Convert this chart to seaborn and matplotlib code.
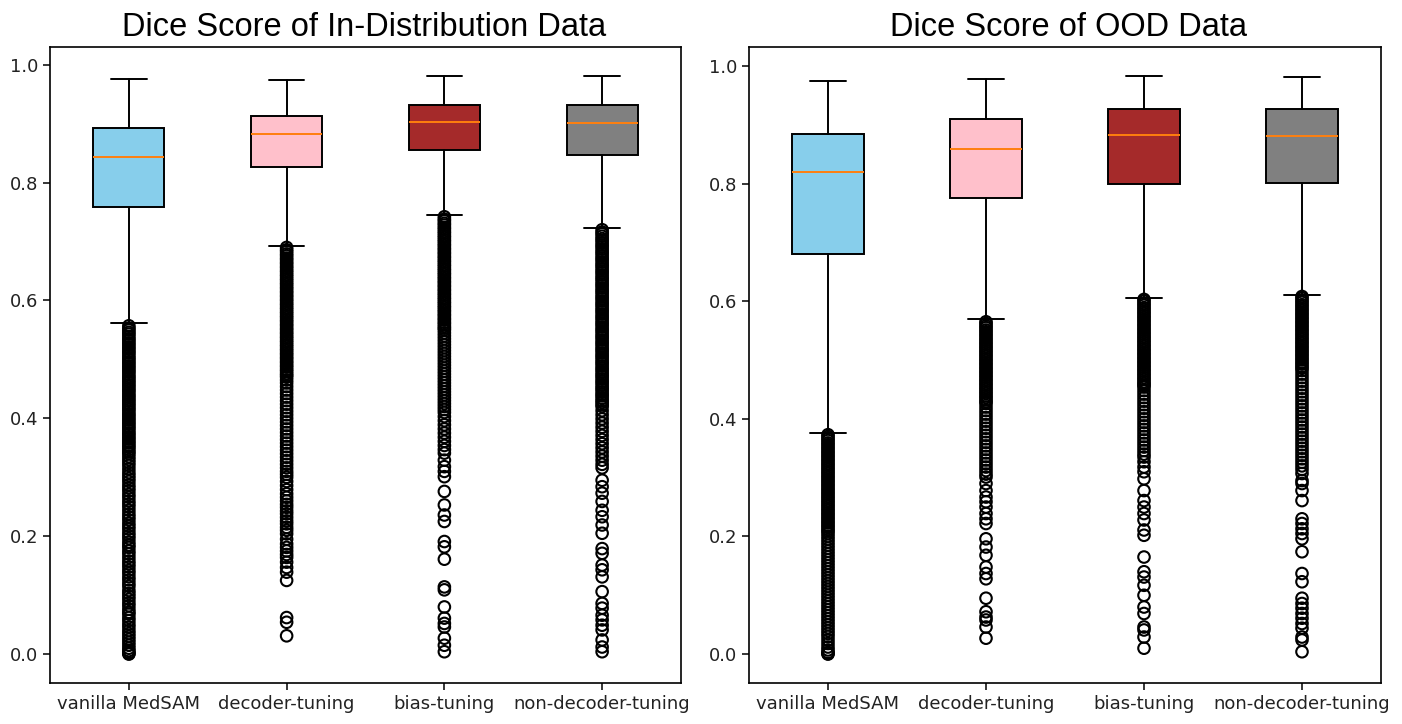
import matplotlib
matplotlib.use("Agg")
import matplotlib.pyplot as plt
import pandas as pd
import seaborn as sns

methods = ["vanilla MedSAM", "decoder-tuning", "bias-tuning", "non-decoder-tuning"]
box_colors = ["skyblue", "pink", "brown", "gray"]
titles = ["Dice Score of In-Distribution Data", "Dice Score of OOD Data"]

# ---- In-distribution box statistics ----
id_whishi = [0.976, 0.974, 0.981, 0.981]
id_q3 = [0.893, 0.913, 0.932, 0.931]
id_med = [0.843, 0.882, 0.903, 0.901]
id_q1 = [0.759, 0.826, 0.856, 0.847]
id_whislo = [0.561, 0.693, 0.745, 0.723]

# ---- OOD box statistics ----
ood_whishi = [0.974, 0.978, 0.983, 0.981]
ood_q3 = [0.884, 0.910, 0.926, 0.926]
ood_med = [0.819, 0.859, 0.883, 0.880]
ood_q1 = [0.681, 0.776, 0.799, 0.801]
ood_whislo = [0.376, 0.569, 0.606, 0.611]

# ---- outliers ----
id_vanilla_fliers = [
    0.557, 0.553, 0.550, 0.546, 0.543, 0.539, 0.535, 0.532, 0.528, 0.525, 0.521, 0.518, 0.514, 0.511,
    0.507, 0.503, 0.500, 0.496, 0.493, 0.489, 0.486, 0.482, 0.479, 0.475, 0.471, 0.468, 0.464, 0.461,
    0.457, 0.454, 0.450, 0.447, 0.443, 0.439, 0.436, 0.432, 0.429, 0.425, 0.422, 0.418, 0.415, 0.411,
    0.407, 0.404, 0.400, 0.397, 0.393, 0.390, 0.386, 0.383, 0.379, 0.375, 0.372, 0.368, 0.365, 0.361,
    0.358, 0.354, 0.351, 0.347, 0.343, 0.340,
    0.335, 0.330, 0.325, 0.320, 0.314, 0.308, 0.303, 0.298, 0.293, 0.287, 0.282, 0.277, 0.271, 0.266,
    0.260, 0.255, 0.250, 0.244, 0.238, 0.233, 0.228, 0.222, 0.217, 0.212, 0.206, 0.201, 0.196, 0.190,
    0.185, 0.181, 0.175, 0.170, 0.164, 0.158, 0.153, 0.148, 0.142, 0.137, 0.131, 0.126, 0.120, 0.115,
    0.108, 0.103, 0.098, 0.093, 0.087, 0.082, 0.076, 0.071, 0.068, 0.062, 0.057, 0.051, 0.046, 0.040,
    0.035, 0.030, 0.025, 0.020, 0.015, 0.010, 0.006, 0.003, 0.001, 0.000]
id_decoder_fliers = [
    0.690, 0.686, 0.683, 0.679, 0.676, 0.672, 0.669, 0.665, 0.662, 0.658, 0.655, 0.651, 0.648, 0.644,
    0.641, 0.637, 0.634, 0.630, 0.627, 0.623, 0.620, 0.616, 0.613, 0.609, 0.606, 0.602, 0.599, 0.595,
    0.592, 0.588, 0.585, 0.581, 0.578, 0.574, 0.571, 0.567, 0.564, 0.560, 0.557, 0.553, 0.550, 0.546,
    0.543, 0.539, 0.536, 0.532, 0.529, 0.525, 0.522, 0.518, 0.515, 0.511, 0.508, 0.504, 0.501, 0.497,
    0.494, 0.490, 0.487, 0.483, 0.480, 0.476, 0.473, 0.470,
    0.465, 0.460, 0.454, 0.448, 0.442, 0.436, 0.430, 0.424, 0.418, 0.412, 0.406, 0.400, 0.394, 0.388,
    0.382, 0.376, 0.370, 0.364, 0.358, 0.352, 0.346, 0.340, 0.334, 0.328, 0.322, 0.316, 0.310, 0.305,
    0.300, 0.293, 0.286, 0.279, 0.272, 0.266, 0.260, 0.254, 0.249, 0.243, 0.238, 0.232, 0.226, 0.221,
    0.215, 0.210, 0.204, 0.195, 0.187, 0.181, 0.175, 0.169, 0.164, 0.156, 0.147, 0.139, 0.125,
    0.062, 0.054, 0.031]
id_bias_fliers = [
    0.742, 0.738, 0.735, 0.731, 0.728, 0.724, 0.721, 0.717, 0.714, 0.710, 0.707, 0.703, 0.700, 0.696,
    0.693, 0.689, 0.686, 0.682, 0.679, 0.675, 0.672, 0.668, 0.665, 0.661, 0.658, 0.654, 0.651, 0.647,
    0.644, 0.640, 0.637, 0.633, 0.630, 0.626, 0.623, 0.619, 0.616, 0.612, 0.609, 0.605, 0.602, 0.598,
    0.595, 0.591, 0.588, 0.584, 0.581, 0.577, 0.574, 0.570, 0.567, 0.563, 0.560, 0.556, 0.553, 0.550,
    0.545, 0.540, 0.535, 0.530, 0.525, 0.520, 0.515, 0.510, 0.505, 0.500, 0.495, 0.490, 0.485, 0.480,
    0.475, 0.470, 0.465, 0.460, 0.455, 0.450, 0.445, 0.440, 0.435, 0.430, 0.425, 0.420, 0.415, 0.410,
    0.403, 0.396, 0.389, 0.382, 0.375, 0.368, 0.361, 0.354, 0.347, 0.341,
    0.329, 0.318, 0.310, 0.301, 0.276, 0.253, 0.236, 0.225, 0.191, 0.182, 0.161, 0.114, 0.109, 0.080,
    0.061, 0.052, 0.046, 0.027, 0.015, 0.004]
id_nondec_fliers = [
    0.720, 0.716, 0.713, 0.709, 0.705, 0.702, 0.698, 0.694, 0.691, 0.687, 0.683, 0.680, 0.676, 0.672,
    0.669, 0.665, 0.661, 0.658, 0.654, 0.650, 0.647, 0.643, 0.639, 0.636, 0.632, 0.628, 0.625, 0.621,
    0.617, 0.614, 0.610, 0.606, 0.603, 0.599, 0.595, 0.592, 0.588, 0.584, 0.581, 0.577, 0.573, 0.570,
    0.566, 0.562, 0.559, 0.555, 0.551, 0.548, 0.544, 0.540, 0.537, 0.533, 0.529, 0.526, 0.522, 0.518,
    0.515, 0.511, 0.507, 0.504, 0.500, 0.496, 0.493, 0.489, 0.485, 0.482, 0.478, 0.474, 0.471, 0.467,
    0.463, 0.460, 0.456, 0.452, 0.449, 0.445, 0.441, 0.438, 0.434, 0.430, 0.427, 0.423, 0.420,
    0.413, 0.406, 0.399, 0.392, 0.385, 0.378, 0.371, 0.364, 0.357, 0.350, 0.343, 0.336, 0.329, 0.322,
    0.316,
    0.295, 0.284, 0.273, 0.259, 0.244, 0.233, 0.219, 0.205, 0.179, 0.171, 0.151, 0.143, 0.131, 0.106,
    0.086, 0.078, 0.066, 0.058, 0.049, 0.041, 0.024, 0.012, 0.004]

ood_vanilla_fliers = [
    0.373, 0.370, 0.366, 0.363, 0.359, 0.356, 0.352, 0.349, 0.345, 0.342, 0.338, 0.335, 0.331, 0.328,
    0.324, 0.321, 0.317, 0.314, 0.310, 0.307, 0.303, 0.300, 0.296, 0.293, 0.289, 0.286, 0.282, 0.279,
    0.275, 0.272, 0.268, 0.265, 0.261, 0.258, 0.254, 0.251, 0.247, 0.244, 0.240, 0.237, 0.233, 0.230,
    0.226, 0.223, 0.219, 0.216, 0.212, 0.209, 0.205,
    0.200, 0.195, 0.190, 0.185, 0.180, 0.175, 0.170, 0.165, 0.160, 0.155, 0.150, 0.145, 0.140, 0.135,
    0.130, 0.125, 0.120, 0.115, 0.110, 0.105, 0.100, 0.095, 0.090, 0.085, 0.080, 0.075, 0.070, 0.065,
    0.060, 0.055, 0.050, 0.045, 0.040, 0.035, 0.030, 0.024, 0.018, 0.012, 0.007, 0.003, 0.001, 0.000]
ood_decoder_fliers = [
    0.565, 0.562, 0.558, 0.555, 0.551, 0.548, 0.544, 0.541, 0.537, 0.534, 0.530, 0.527, 0.523, 0.520,
    0.516, 0.513, 0.509, 0.506, 0.502, 0.499, 0.495, 0.492, 0.488, 0.485, 0.481, 0.478, 0.474, 0.471,
    0.467, 0.464, 0.460, 0.457, 0.453, 0.450, 0.446, 0.443, 0.439, 0.436, 0.432, 0.429, 0.426,
    0.420, 0.414, 0.408, 0.402, 0.396, 0.390, 0.384, 0.378, 0.372, 0.366, 0.360, 0.354, 0.348, 0.342,
    0.336, 0.330, 0.324, 0.318, 0.312, 0.306, 0.301,
    0.290, 0.278, 0.267, 0.259, 0.250, 0.239, 0.230, 0.222, 0.196, 0.182, 0.168, 0.148, 0.137, 0.128,
    0.095, 0.072, 0.063, 0.058, 0.046, 0.027]
ood_bias_fliers = [
    0.603, 0.600, 0.596, 0.593, 0.589, 0.586, 0.582, 0.579, 0.575, 0.572, 0.568, 0.565, 0.561, 0.558,
    0.554, 0.551, 0.547, 0.544, 0.540, 0.537, 0.533, 0.530, 0.526, 0.523, 0.519, 0.516, 0.512, 0.509,
    0.505, 0.502, 0.498, 0.495, 0.491, 0.488, 0.484, 0.481, 0.477, 0.474, 0.470, 0.467, 0.463, 0.460,
    0.457, 0.454,
    0.448, 0.442, 0.436, 0.430, 0.424, 0.418, 0.412, 0.406, 0.400, 0.394, 0.388, 0.382, 0.376, 0.370,
    0.364, 0.358, 0.352, 0.346, 0.340, 0.335,
    0.327, 0.318, 0.310, 0.298, 0.278, 0.261, 0.250, 0.239, 0.228, 0.211, 0.202, 0.165, 0.140, 0.131,
    0.117, 0.100, 0.080, 0.069, 0.046, 0.041, 0.029, 0.010]
ood_nondec_fliers = [
    0.608, 0.605, 0.601, 0.598, 0.594, 0.591, 0.587, 0.584, 0.580, 0.577, 0.573, 0.570, 0.566, 0.563,
    0.559, 0.556, 0.552, 0.549, 0.545, 0.542, 0.538, 0.535, 0.531, 0.528, 0.524, 0.521, 0.517, 0.514,
    0.510, 0.507, 0.503, 0.500, 0.496, 0.493, 0.489, 0.486, 0.482,
    0.476, 0.470, 0.464, 0.458, 0.452, 0.446, 0.440, 0.434, 0.428, 0.422, 0.416, 0.410, 0.404, 0.398,
    0.392, 0.386, 0.380, 0.374, 0.368, 0.362, 0.356, 0.350, 0.344, 0.338, 0.332, 0.326, 0.320, 0.314,
    0.307,
    0.295, 0.290, 0.278, 0.261, 0.230, 0.222, 0.213, 0.205, 0.196, 0.174, 0.137, 0.123, 0.095, 0.086,
    0.078, 0.069, 0.061, 0.052, 0.044, 0.029, 0.024, 0.004]

panels = [
    dict(whishi=id_whishi, q3=id_q3, med=id_med, q1=id_q1, whislo=id_whislo,
         fliers=[id_vanilla_fliers, id_decoder_fliers, id_bias_fliers, id_nondec_fliers]),
    dict(whishi=ood_whishi, q3=ood_q3, med=ood_med, q1=ood_q1, whislo=ood_whislo,
         fliers=[ood_vanilla_fliers, ood_decoder_fliers, ood_bias_fliers, ood_nondec_fliers]),
]

# ---- style ----
sns.set_style("ticks")
plt.rcParams["font.family"] = ["DejaVu Sans"]
plt.rcParams["axes.edgecolor"] = "black"
plt.rcParams["axes.linewidth"] = 1.2

fig = plt.figure(figsize=(14.02, 7.24), dpi=100)
W, H = 1402, 724
ax_boxes = [
    [50 / W, (H - 683) / H, 631 / W, 636 / H],
    [749 / W, (H - 683) / H, 632 / W, 636 / H],
]
title_x = [364 / W, 1068 / W]

line_kw = dict(color="black", linewidth=1.4)
for p, rect, title, tx in zip(panels, ax_boxes, titles, title_x):
    ax = fig.add_axes(rect)

    # outliers via seaborn (hollow circles)
    df = pd.DataFrame({
        "method": [m for m, fl in zip(methods, p["fliers"]) for _ in fl],
        "score": [v for fl in p["fliers"] for v in fl],
    })
    sns.stripplot(data=df, x="method", y="score", order=methods, jitter=False,
                  color="black", edgecolor="black", linewidth=1.5, size=8.3,
                  marker="o", ax=ax, legend=False)
    for coll in ax.collections:
        coll.set_facecolor("none")
        coll.set_edgecolor("black")

    stats = [dict(med=p["med"][i], q1=p["q1"][i], q3=p["q3"][i],
                  whislo=p["whislo"][i], whishi=p["whishi"][i], fliers=[])
             for i in range(len(methods))]
    bp = ax.bxp(stats, positions=range(len(methods)), widths=0.45, patch_artist=True,
                showfliers=False, manage_ticks=False,
                boxprops=dict(edgecolor="black", linewidth=1.4),
                whiskerprops=line_kw, capprops=line_kw,
                medianprops=dict(color="#ff7f0e", linewidth=1.4))
    for patch, c in zip(bp["boxes"], box_colors):
        patch.set_facecolor(c)

    allv = [v for fl in p["fliers"] for v in fl] + p["whishi"]
    lo, hi = min(allv), max(allv)
    pad = 0.05 * (hi - lo)
    ax.set_ylim(lo - pad, hi + pad)
    ax.set_xlim(-0.5, len(methods) - 0.5)
    ax.set_xticks(range(len(methods)))
    ax.set_xticklabels(methods)
    ax.set_yticks([0.0, 0.2, 0.4, 0.6, 0.8, 1.0])
    ax.set_xlabel("")
    ax.set_ylabel("")
    ax.tick_params(axis="both", labelsize=13, length=5, width=1.1, color="black",
                   labelcolor="#222222")
    for s in ax.spines.values():
        s.set_visible(True)
        s.set_color("black")
        s.set_linewidth(1.2)

    fig.text(tx, 1 - 36 / H, title, ha="center", va="baseline", fontsize=23.5,
             family=["Liberation Sans", "DejaVu Sans"], color="black")

fig.savefig("out.png", dpi=100, facecolor="white")
